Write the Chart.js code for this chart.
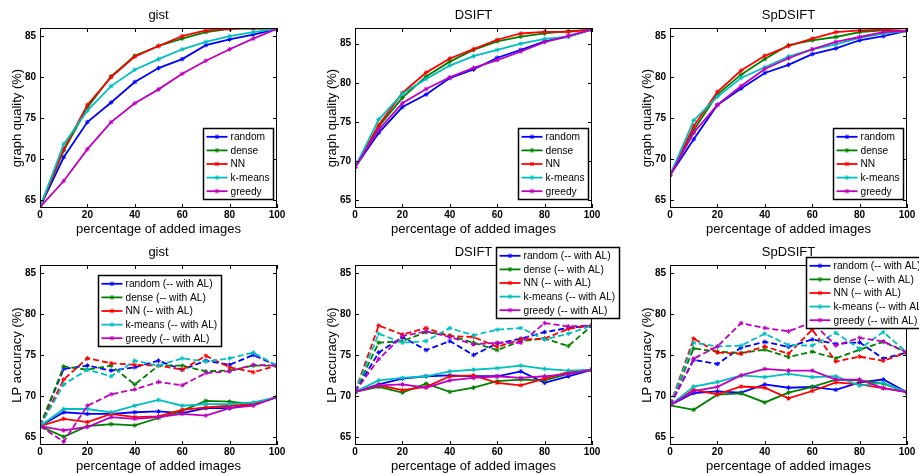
<!DOCTYPE html>
<html><head><meta charset="utf-8">
<script src="https://cdn.jsdelivr.net/npm/chart.js@4/dist/chart.umd.min.js"></script>
<style>
html,body{margin:0;padding:0;background:#fff;width:919px;height:474px;overflow:hidden;position:relative}
canvas{position:absolute}
</style></head><body>
<canvas id="c0" width="310" height="238" style="left:0px;top:0px"></canvas>
<canvas id="c1" width="310" height="238" style="left:315px;top:0px"></canvas>
<canvas id="c2" width="310" height="238" style="left:630px;top:0px"></canvas>
<canvas id="c3" width="310" height="245" style="left:0px;top:230px"></canvas>
<canvas id="c4" width="310" height="245" style="left:315px;top:230px"></canvas>
<canvas id="c5" width="310" height="245" style="left:630px;top:230px"></canvas>
<script>
// ---------- data ----------
const xPercent = [0,10,20,30,40,50,60,70,80,90,100];
const xTicks = [0,20,40,60,80,100];
const yTicks = [65,70,75,80,85];
const methods = ['random','dense','NN','k-means','greedy'];

// graph quality (%) - gist
const gqGist_random = [64.1,70.2,74.5,76.9,79.4,81.1,82.2,83.9,84.6,85.2,85.9];
const gqGist_dense  = [64.1,71.0,76.3,80.1,82.6,83.8,84.7,85.5,85.9,85.95,85.9];
const gqGist_NN     = [64.1,71.2,76.6,80.0,82.5,83.8,85.0,85.7,85.9,86.0,85.9];
const gqGist_kmeans = [64.1,71.8,75.9,78.9,80.9,82.2,83.4,84.3,85.0,85.5,85.9];
const gqGist_greedy = [64.1,67.3,71.2,74.5,76.8,78.5,80.4,82.0,83.4,84.7,85.9];
// graph quality (%) - DSIFT
const gqDsift_random = [69.2,73.6,76.9,78.5,80.6,81.7,83.2,84.2,85.3,85.9,86.8];
const gqDsift_dense  = [69.2,74.4,78.1,80.8,82.7,84.2,85.3,85.9,86.3,86.6,86.8];
const gqDsift_NN     = [69.2,74.6,78.7,81.3,83.1,84.3,85.5,86.3,86.5,86.5,86.8];
const gqDsift_kmeans = [69.2,75.3,78.6,80.5,82.2,83.4,84.2,85.0,85.6,85.9,86.8];
const gqDsift_greedy = [69.2,74.0,77.4,79.2,80.7,81.9,82.9,84.0,85.2,86.0,86.8];
// graph quality (%) - SpDSIFT
const gqSp_random = [68.0,72.4,76.6,78.6,80.5,81.5,82.8,83.5,84.5,85.0,85.65];
const gqSp_dense  = [68.0,73.5,77.9,80.3,82.2,83.9,84.5,84.9,85.5,85.7,85.65];
const gqSp_NN     = [68.0,74.0,78.2,80.8,82.6,83.8,84.7,85.5,85.7,85.8,85.65];
const gqSp_kmeans = [68.0,74.7,77.6,79.9,81.2,82.5,83.4,84.0,84.8,85.3,85.65];
const gqSp_greedy = [68.0,73.2,76.6,78.9,81.0,82.3,83.4,84.3,84.9,85.5,85.65];

// LP accuracy (%) - gist (without / with AL)
const lpGist_random = [66.3,68.0,67.8,67.8,68.0,68.1,67.9,68.5,68.5,69.0,69.85];
const lpGist_dense  = [66.3,65.0,66.3,66.55,66.4,67.3,68.2,69.4,69.3,69.0,69.85];
const lpGist_NN     = [66.3,67.2,66.8,67.8,67.4,67.5,68.3,68.6,68.8,69.0,69.85];
const lpGist_kmeans = [66.3,68.4,68.4,68.0,68.8,69.5,68.8,69.0,69.0,69.2,69.85];
const lpGist_greedy = [66.3,65.8,66.2,67.4,67.2,67.4,67.8,67.6,68.5,68.8,69.85];
const lpGistAL_random = [66.3,73.3,73.7,73.1,73.5,74.3,73.2,74.3,73.8,75.0,73.7];
const lpGistAL_dense  = [66.3,73.6,73.2,73.7,71.4,73.7,73.7,73.0,73.1,73.7,73.7];
const lpGistAL_NN     = [66.3,72.0,74.6,74.0,73.8,73.7,73.2,74.9,73.5,72.9,73.7];
const lpGistAL_kmeans = [66.3,71.4,73.2,72.4,74.3,73.7,74.6,74.2,74.6,75.3,73.7];
const lpGistAL_greedy = [66.3,64.4,68.8,70.2,70.8,71.7,71.3,72.8,73.0,73.8,73.7];
// LP accuracy (%) - DSIFT
const lpDsift_random = [70.5,71.4,72.1,72.4,72.5,72.4,72.4,73.0,71.6,72.4,73.2];
const lpDsift_dense  = [70.5,71.1,70.4,71.5,70.5,71.0,71.8,72.0,71.9,72.7,73.2];
const lpDsift_NN     = [70.5,71.3,70.7,71.1,72.4,72.5,71.6,71.3,72.1,72.9,73.2];
const lpDsift_kmeans = [70.5,71.9,72.2,72.4,73.0,73.2,73.4,73.7,73.3,73.1,73.2];
const lpDsift_greedy = [70.5,71.3,71.4,71.0,71.9,72.2,72.4,72.2,72.4,72.7,73.2];
const lpDsiftAL_random = [70.5,75.3,77.2,75.6,76.7,75.0,76.4,77.0,77.8,78.3,78.6];
const lpDsiftAL_dense  = [70.5,76.5,76.7,77.8,77.4,76.5,75.6,76.7,77.0,76.1,78.6];
const lpDsiftAL_NN     = [70.5,78.6,77.5,78.3,77.3,77.2,76.0,76.9,77.0,78.2,78.6];
const lpDsiftAL_kmeans = [70.5,77.6,76.5,76.7,78.3,77.4,78.1,78.3,76.9,77.6,78.6];
const lpDsiftAL_greedy = [70.5,74.5,77.3,77.9,77.2,76.3,76.5,76.5,78.9,78.5,78.6];
// LP accuracy (%) - SpDSIFT
const lpSp_random = [68.85,70.35,70.55,70.4,71.4,71.0,71.1,70.75,71.65,72.0,70.45];
const lpSp_dense  = [68.85,68.3,70.15,70.3,69.2,70.4,71.1,72.0,71.9,71.5,70.45];
const lpSp_NN     = [68.85,70.75,70.2,71.15,71.0,69.7,70.6,71.65,71.4,70.95,70.45];
const lpSp_kmeans = [68.85,71.15,71.7,72.5,72.3,72.7,72.3,72.4,71.25,71.6,70.45];
const lpSp_greedy = [68.85,70.6,71.1,72.5,73.3,73.1,73.1,72.0,72.0,70.95,70.45];
const lpSpAL_random = [68.85,74.4,73.9,75.9,76.6,76.0,76.9,76.35,76.55,74.55,75.3];
const lpSpAL_dense  = [68.85,75.8,75.4,75.25,75.65,74.75,75.4,74.6,75.65,76.6,75.3];
const lpSpAL_NN     = [68.85,77.0,75.3,75.15,76.05,75.15,78.1,74.2,74.8,74.3,75.3];
const lpSpAL_kmeans = [68.85,76.5,76.05,76.15,77.6,76.2,76.15,77.7,75.75,77.8,75.3];
const lpSpAL_greedy = [68.85,74.55,76.05,78.9,78.3,77.9,79.0,76.15,77.1,76.65,75.3];

// ---------- styling ----------
const FONT = "'Liberation Sans', Arial, Helvetica, sans-serif";
const COLORS = ['#0000ff','#008000','#ff0000','#00bfbf','#bf00bf'];

function pts(vals){ return xPercent.map((x,i)=>({x:x,y:vals[i]})); }

function series(vals, idx, label, dashed, inLegend, order){
  return {
    label: label, data: pts(vals), inLegend: inLegend,
    borderColor: COLORS[idx], backgroundColor: COLORS[idx],
    borderWidth: 1.8, borderDash: dashed ? [6,3] : [],
    pointStyle: 'star', pointRadius: 2.3, pointBorderWidth: 1,
    pointBorderColor: COLORS[idx], tension: 0, order: order
  };
}

const framePlugin = {
  id: 'frame',
  afterDatasetsDraw(chart){
    const {ctx, chartArea:a, scales} = chart;
    ctx.save();
    ctx.strokeStyle = '#000'; ctx.lineWidth = 1;
    ctx.strokeRect(Math.round(a.left)+0.5, Math.round(a.top)+0.5, Math.round(a.right-a.left)-1, Math.round(a.bottom-a.top)-1);
    const L = 4;
    ctx.beginPath();
    xTicks.forEach(v=>{
      const px = Math.round(scales.x.getPixelForValue(v))+0.5;
      ctx.moveTo(px, a.bottom); ctx.lineTo(px, a.bottom-L);
      ctx.moveTo(px, a.top); ctx.lineTo(px, a.top+L);
    });
    yTicks.forEach(v=>{
      const py = Math.round(scales.y.getPixelForValue(v))+0.5;
      ctx.moveTo(a.left, py); ctx.lineTo(a.left+L, py);
      ctx.moveTo(a.right, py); ctx.lineTo(a.right-L, py);
    });
    ctx.stroke();
    ctx.restore();
  }
};

const legendPlugin = {
  id: 'mlegend',
  afterDraw(chart, args, opts){
    const {ctx, chartArea:a} = chart;
    const items = chart.data.datasets.filter(d=>d.inLegend);
    ctx.save();
    ctx.font = opts.fontSize + 'px ' + FONT;
    const tw = Math.max(...items.map(d=>ctx.measureText(d.label).width));
    const rowH = 13.6;
    const x0 = Math.round(a.left + opts.x) + 0.5, y0 = Math.round(a.top + opts.y) + 0.5;
    const w = Math.round(3 + 21 + 3 + tw + 4), h = Math.round(items.length*rowH + 3);
    ctx.fillStyle = '#fff'; ctx.fillRect(x0, y0, w, h);
    ctx.strokeStyle = '#000'; ctx.lineWidth = 1.5; ctx.strokeRect(x0, y0, w, h);
    items.forEach((d,i)=>{
      const cy = y0 + 8.3 + i*rowH;
      ctx.strokeStyle = d.borderColor; ctx.lineWidth = 1.8; ctx.setLineDash([]);
      ctx.beginPath(); ctx.moveTo(x0+3, cy); ctx.lineTo(x0+24, cy); ctx.stroke();
      // marker
      const mx = x0+13.5, r = 2.3;
      ctx.lineWidth = 1; ctx.beginPath();
      ctx.moveTo(mx-r, cy); ctx.lineTo(mx+r, cy);
      ctx.moveTo(mx, cy-r); ctx.lineTo(mx, cy+r);
      ctx.moveTo(mx-r*0.7, cy-r*0.7); ctx.lineTo(mx+r*0.7, cy+r*0.7);
      ctx.moveTo(mx-r*0.7, cy+r*0.7); ctx.lineTo(mx+r*0.7, cy-r*0.7);
      ctx.stroke();
      ctx.fillStyle = '#000'; ctx.textBaseline = 'middle'; ctx.textAlign = 'left';
      ctx.fillText(d.label, x0+27, cy+0.5);
    });
    ctx.restore();
  }
};

function makeChart(cfg){
  const canvas = document.getElementById(cfg.id);
  new Chart(canvas, {
    type: 'line',
    data: { datasets: cfg.datasets },
    options: {
      responsive: false, animation: false, devicePixelRatio: 1,
      layout: { padding: { left: 0, right: canvas.width - 40 - 237, top: 0, bottom: 0 } },
      plugins: {
        legend: { display: false }, tooltip: { enabled: false },
        title: { display: true, text: cfg.title, fullSize: false, color: '#000',
          font: { family: FONT, size: 13, weight: 'normal', lineHeight: '16px' },
          padding: { top: cfg.tp, bottom: cfg.tb } },
        mlegend: { x: cfg.lx, y: cfg.ly, fontSize: 10.2 }
      },
      scales: {
        x: {
          type: 'linear', min: 0, max: 100,
          afterBuildTicks: s => { s.ticks = xTicks.map(v=>({value:v})); },
          afterFit: s => { s.height = 30; s.paddingLeft = 0; s.paddingRight = 0; },
          grid: { display: false, drawTicks: false }, border: { display: false },
          ticks: { color: '#000', font: { family: FONT, size: 10, weight: 'bold' }, padding: 1, maxRotation: 0, autoSkip: false },
          title: { display: true, text: 'percentage of added images', color: '#000',
            font: { family: FONT, size: 13 }, padding: { top: 0, bottom: 0.7 } }
        },
        y: {
          type: 'linear', min: cfg.ymin, max: cfg.ymax,
          afterBuildTicks: s => { s.ticks = yTicks.map(v=>({value:v})); },
          afterFit: s => { s.width = 40; s.paddingTop = 0; s.paddingBottom = 0; },
          grid: { display: false, drawTicks: false }, border: { display: false },
          ticks: { color: '#000', font: { family: FONT, size: 10, weight: 'bold' }, padding: 4 },
          title: { display: true, text: cfg.ylabel, color: '#000',
            font: { family: FONT, size: 13 }, padding: { top: 9.2, bottom: 0 } }
        }
      }
    },
    plugins: [framePlugin, legendPlugin]
  });
}

function gqSets(arrs){
  return arrs.map((v,i)=>series(v, i, methods[i], false, true, -i));
}
function lpSets(solid, dashed){
  const s = solid.map((v,i)=>series(v, i, methods[i] + ' (-- with AL)', false, true, -i));
  const d = dashed.map((v,i)=>series(v, i, methods[i] + ' with AL', true, false, -5-i));
  return s.concat(d);
}

makeChart({ id:'c0', title:'gist', ylabel:'graph quality (%)', ymin:64, ymax:86, tp:7, tb:5, lx:163, ly:100,
  datasets: gqSets([gqGist_random, gqGist_dense, gqGist_NN, gqGist_kmeans, gqGist_greedy]) });
makeChart({ id:'c1', title:'DSIFT', ylabel:'graph quality (%)', ymin:64, ymax:87, tp:7, tb:5, lx:163, ly:100,
  datasets: gqSets([gqDsift_random, gqDsift_dense, gqDsift_NN, gqDsift_kmeans, gqDsift_greedy]) });
makeChart({ id:'c2', title:'SpDSIFT', ylabel:'graph quality (%)', ymin:64, ymax:86, tp:7, tb:5, lx:163, ly:100,
  datasets: gqSets([gqSp_random, gqSp_dense, gqSp_NN, gqSp_kmeans, gqSp_greedy]) });
makeChart({ id:'c3', title:'gist', ylabel:'LP accuracy (%)', ymin:64, ymax:86, tp:14.5, tb:4.5, lx:58, ly:10,
  datasets: lpSets([lpGist_random, lpGist_dense, lpGist_NN, lpGist_kmeans, lpGist_greedy],
                   [lpGistAL_random, lpGistAL_dense, lpGistAL_NN, lpGistAL_kmeans, lpGistAL_greedy]) });
makeChart({ id:'c4', title:'DSIFT', ylabel:'LP accuracy (%)', ymin:64, ymax:86, tp:14.5, tb:4.5, lx:141, ly:-18,
  datasets: lpSets([lpDsift_random, lpDsift_dense, lpDsift_NN, lpDsift_kmeans, lpDsift_greedy],
                   [lpDsiftAL_random, lpDsiftAL_dense, lpDsiftAL_NN, lpDsiftAL_kmeans, lpDsiftAL_greedy]) });
makeChart({ id:'c5', title:'SpDSIFT', ylabel:'LP accuracy (%)', ymin:64, ymax:86, tp:14.5, tb:4.5, lx:136, ly:-8,
  datasets: lpSets([lpSp_random, lpSp_dense, lpSp_NN, lpSp_kmeans, lpSp_greedy],
                   [lpSpAL_random, lpSpAL_dense, lpSpAL_NN, lpSpAL_kmeans, lpSpAL_greedy]) });
</script>
</body></html>
